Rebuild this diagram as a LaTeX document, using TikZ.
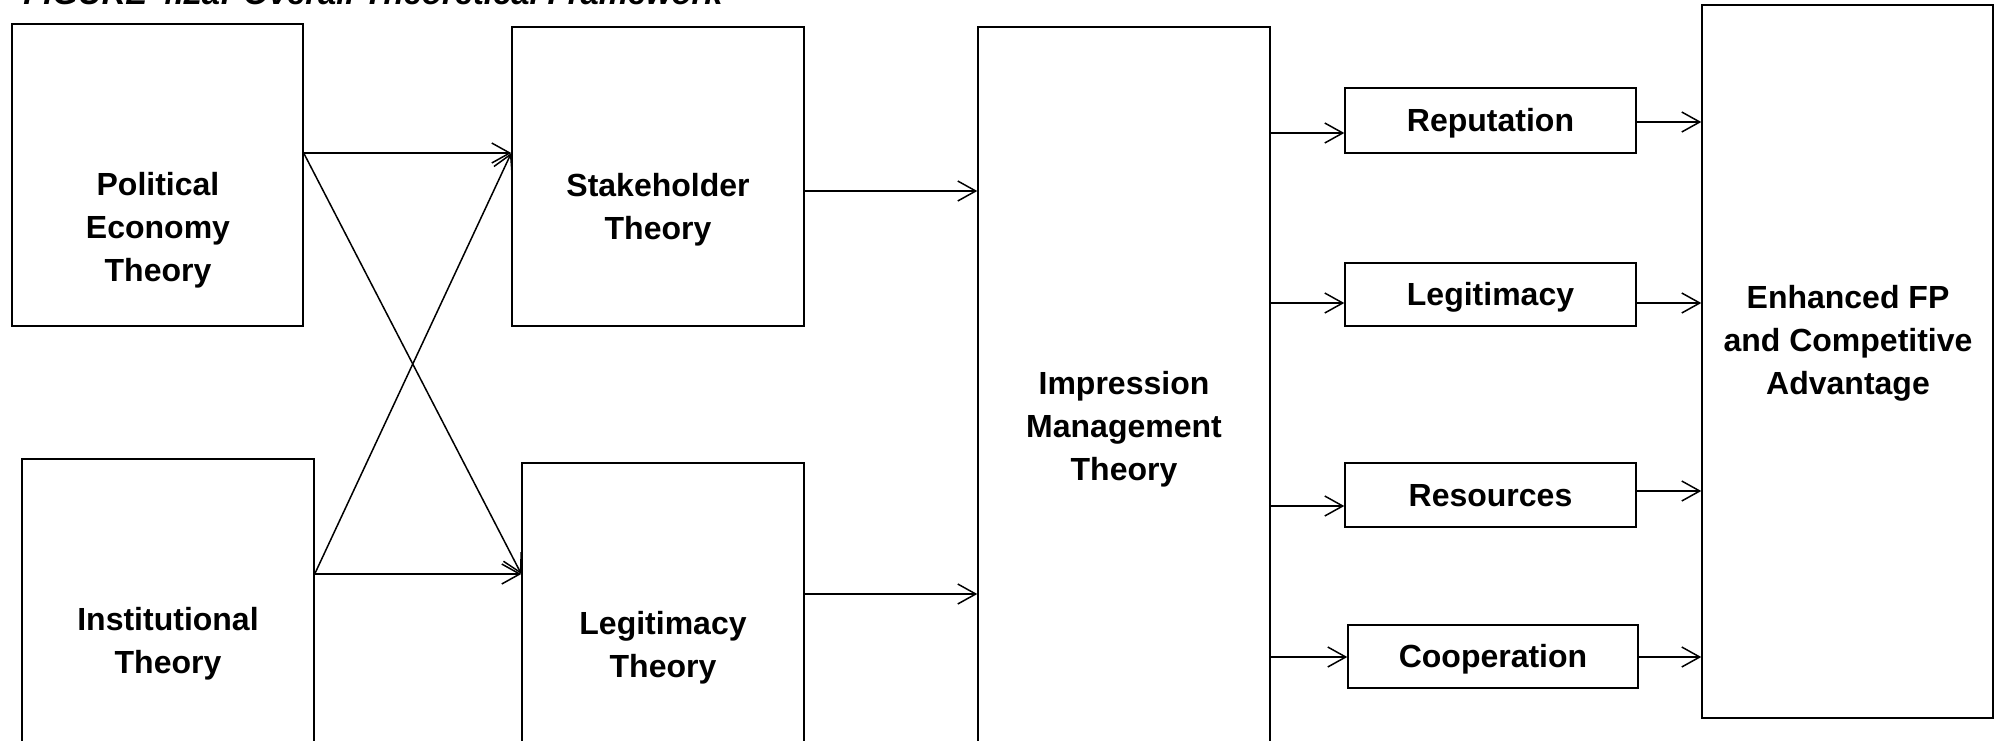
\documentclass[tikz,border=0pt]{standalone}
\usepackage{fontspec}
\setmainfont{Liberation Sans}
\usetikzlibrary{arrows.meta,fit}
\begin{document}
\begin{tikzpicture}[x=0.5pt,y=-0.5pt,
  box/.style={draw=black, line width=0.7pt, inner sep=0pt, fill=none},
  lbl/.style={align=center, font=\fontsize{16pt}{21.5pt}\selectfont\bfseries, inner sep=0pt},
  slbl/.style={align=center, font=\fontsize{16pt}{20pt}\selectfont\bfseries, inner sep=0pt},
  arr/.style={line width=0.75pt, -{Straight Barb[length=9pt,width=10pt]}}]
\useasboundingbox (0,0) rectangle (1999,740);
% title (cropped at top edge, as in the reference)
\node[anchor=base west, inner sep=0pt, font=\fontsize{16.4pt}{19pt}\selectfont\bfseries\itshape] (title) at (23,4.7) {FIGURE 4.2a: Overall Theoretical Framework};
% boxes
\node[box, fit={(12,24) (303,326)}] (PE) {};
\node[box, fit={(22,459) (314,760)}] (Inst) {};
\node[box, fit={(512,27) (804,326)}] (Stake) {};
\node[box, fit={(522,463) (804,760)}] (LegT) {};
\node[box, fit={(978,27) (1270,760)}] (IM) {};
\node[box, fit={(1345,88) (1636,153)}] (Rep) {};
\node[box, fit={(1345,263) (1636,326)}] (Leg) {};
\node[box, fit={(1345,463) (1636,527)}] (Res) {};
\node[box, fit={(1348,625) (1638,688)}] (Coop) {};
\node[box, fit={(1702,5) (1993,718)}] (Enh) {};
% labels
\node[lbl] (tPE) at (158,230) {Political\\Economy\\Theory};
\node[lbl] (tInst) at (168,644) {Institutional\\Theory};
\node[lbl] (tStake) at (658,210) {Stakeholder\\Theory};
\node[lbl] (tLegT) at (663,648) {Legitimacy\\Theory};
\node[lbl] (tIM) at (1124,429) {Impression\\Management\\Theory};
\node[slbl] (tRep) at ([yshift=-1.2pt]Rep.center) {Reputation};
\node[slbl] (tLeg) at ([yshift=-1.2pt]Leg.center) {Legitimacy};
\node[slbl] (tRes) at ([yshift=-0.3pt]Res.center) {Resources};
\node[slbl] (tCoop) at ([yshift=-1.2pt]Coop.center) {Cooperation};
\node[lbl] (tEnh) at (1848,343) {Enhanced FP\\and Competitive\\Advantage};
% connectors
\draw[arr] (PE.east |- 0,153) -- (Stake.west |- 0,153);
\draw[arr] (PE.east |- 0,153) -- (LegT.west |- 0,574);
\draw[arr] (Inst.east |- 0,574) -- (Stake.west |- 0,153);
\draw[arr] (Inst.east |- 0,574) -- (LegT.west |- 0,574);
\draw[arr] (Stake.east |- 0,191) -- (IM.west |- 0,191);
\draw[arr] (LegT.east |- 0,594) -- (IM.west |- 0,594);
\draw[arr] (IM.east |- 0,133) -- (Rep.west |- 0,133);
\draw[arr] (IM.east |- 0,303) -- (Leg.west |- 0,303);
\draw[arr] (IM.east |- 0,506) -- (Res.west |- 0,506);
\draw[arr] (IM.east |- 0,657) -- (Coop.west |- 0,657);
\draw[arr] (Rep.east |- 0,122) -- (Enh.west |- 0,122);
\draw[arr] (Leg.east |- 0,303) -- (Enh.west |- 0,303);
\draw[arr] (Res.east |- 0,491) -- (Enh.west |- 0,491);
\draw[arr] (Coop.east |- 0,657) -- (Enh.west |- 0,657);
\end{tikzpicture}
\end{document}
